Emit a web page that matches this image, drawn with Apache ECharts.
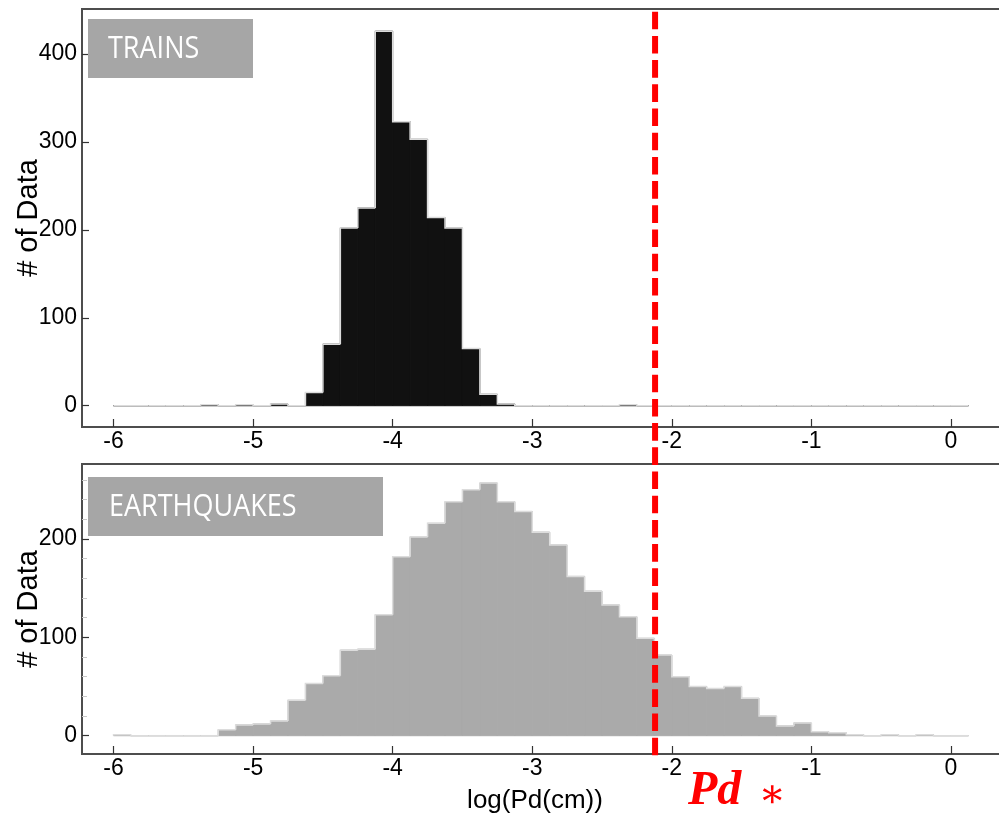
<!DOCTYPE html>
<html>
<head>
<meta charset="utf-8">
<script src="https://cdn.jsdelivr.net/npm/echarts@6/dist/echarts.min.js"></script>
<style>
  html, body { margin: 0; padding: 0; background: #ffffff; }
  #chart { width: 999px; height: 821px; }
</style>
</head>
<body>
<div id="chart"></div>
<script>
// Histogram bins: log10 of peak displacement Pd (cm), fixed-width bins
const binStart = -6.0;
const binWidth = 0.125;

// Counts per bin for train-induced signals
const trainCounts = [
  0, 0, 0, 0, 0, 1, 0, 1, 0, 2,
  0, 15, 70, 202, 225, 426, 323, 303, 214, 202,
  65, 13, 2, 0, 0, 0, 0, 0, 0, 1,
  0, 0, 0, 0, 0, 0, 0, 0, 0, 0,
  0, 0, 0, 0, 0, 0, 0, 0, 0
];

// Counts per bin for earthquake signals
const quakeCounts = [
  1, 0, 0, 0, 0, 0, 6, 11, 12, 15,
  36, 53, 61, 87, 88, 123, 182, 202, 216, 238,
  250, 257, 238, 228, 207, 194, 162, 147, 133, 121,
  99, 82, 60, 50, 48, 50, 38, 20, 10, 13,
  4, 3, 1, 0, 1, 0, 1, 0, 0
];

// Tick labels
const xTicks = [-6, -5, -4, -3, -2, -1, 0];
const trainYTicks = [0, 100, 200, 300, 400];
const quakeYTicks = [0, 100, 200];

// Threshold Pd* (log scale)
const pdStar = -2.12;

const panelNames = ['TRAINS', 'EARTHQUAKES'];
const xTitle = 'log(Pd(cm))';
const yTitle = '# of Data';

// [left edge, right edge, count, previous count, is last bin]
function toBins(counts) {
  return counts.map((c, i) => [
    binStart + i * binWidth,
    binStart + (i + 1) * binWidth,
    c,
    i > 0 ? counts[i - 1] : 0,
    i === counts.length - 1 ? 1 : 0
  ]);
}

// Filled bin plus the stepped outline of the histogram envelope
function renderBin(params, api) {
  const x0 = api.value(0), x1 = api.value(1), c = api.value(2), prev = api.value(3);
  const base = api.coord([x0, 0]);
  const top = api.coord([x1, c]);
  const prevTop = api.coord([x0, prev]);
  const pts = [[base[0], prevTop[1]], [base[0], top[1]], [top[0], top[1]]];
  if (api.value(4)) pts.push([top[0], base[1]]);
  const color = api.visual('color');
  return {
    type: 'group',
    children: [
      {
        type: 'rect',
        z2: 1,
        shape: { x: base[0], y: top[1], width: top[0] - base[0], height: base[1] - top[1] },
        style: { fill: color, stroke: color, lineWidth: 1 }
      },
      {
        type: 'polyline',
        z2: 10,
        shape: { points: pts },
        style: { fill: null, stroke: '#dcdcdc', lineWidth: 1.5 }
      }
    ]
  };
}

const AXIS_FONT = 'Liberation Sans, Arial, sans-serif';
const frameColor = '#4d4d4d';

function xAxisFor(gridIndex, withName) {
  const ax = {
    gridIndex: gridIndex,
    type: 'value',
    min: -6.226,
    max: 0.509,
    axisLine: { show: false, onZero: false },
    splitLine: { show: false },
    axisTick: { inside: true, length: 8, lineStyle: { color: '#333', width: 1.2 }, customValues: xTicks },
    axisLabel: { customValues: xTicks, fontSize: 23, fontFamily: AXIS_FONT, color: '#000', margin: 3 }
  };
  if (withName) {
    ax.name = xTitle;
    ax.nameLocation = 'middle';
    ax.nameGap = 34;
    ax.nameMoveOverlap = false;
    ax.nameTextStyle = { fontSize: 26, fontFamily: AXIS_FONT, color: '#000', padding: [0, 34, 0, 0] };
  }
  return ax;
}

function yAxisFor(gridIndex, min, max, ticks, minor) {
  return {
    gridIndex: gridIndex,
    type: 'value',
    min: min,
    max: max,
    splitNumber: 3,
    axisLine: { show: false, onZero: false },
    splitLine: { show: false },
    axisTick: { inside: true, length: 7, lineStyle: { color: '#333', width: 1.2 }, customValues: ticks },
    minorTick: { show: minor, splitNumber: 5, length: 5, lineStyle: { color: '#c8c8c8', width: 1 } },
    axisLabel: { customValues: ticks, fontSize: 23, fontFamily: AXIS_FONT, color: '#000', margin: 5 },
    name: yTitle,
    nameLocation: 'middle',
    nameGap: 39,
    nameMoveOverlap: false,
    nameTextStyle: { fontSize: 29, fontFamily: AXIS_FONT, color: '#000' }
  };
}

const chart = echarts.init(document.getElementById('chart'), null, { renderer: 'canvas' });

const gridBase = { left: 82, width: 940, show: true, borderColor: frameColor, borderWidth: 2,
                   backgroundColor: 'transparent', outerBoundsMode: 'none', containLabel: false };

chart.setOption({
  animation: false,
  backgroundColor: '#ffffff',
  grid: [
    Object.assign({}, gridBase, { top: 9, height: 418 }),
    Object.assign({}, gridBase, { top: 464, height: 290 })
  ],
  xAxis: [xAxisFor(0, false), xAxisFor(1, true)],
  yAxis: [
    yAxisFor(0, -24.2, 451.2, trainYTicks, false),
    yAxisFor(1, -18.6, 276.3, quakeYTicks, true)
  ],
  series: [
    {
      name: panelNames[0],
      type: 'custom',
      xAxisIndex: 0,
      yAxisIndex: 0,
      renderItem: renderBin,
      itemStyle: { color: '#111111' },
      encode: { x: [0, 1], y: 2 },
      data: toBins(trainCounts)
    },
    {
      name: panelNames[1],
      type: 'custom',
      xAxisIndex: 1,
      yAxisIndex: 1,
      renderItem: renderBin,
      itemStyle: { color: '#aaaaaa' },
      encode: { x: [0, 1], y: 2 },
      data: toBins(quakeCounts)
    }
  ]
});

// Panel captions and the Pd* threshold line, placed from the axis scale
const xPd = chart.convertToPixel({ xAxisIndex: 0 }, pdStar);

chart.setOption({
  graphic: [
    { type: 'rect', z: 50, shape: { x: 88, y: 19, width: 165, height: 59 }, style: { fill: '#a6a6a6' } },
    { type: 'text', z: 51, x: 108, y: 49, scaleY: 1.12,
      style: { text: panelNames[0], fill: '#ffffff', font: '27px "Open Sans", sans-serif', textVerticalAlign: 'middle' } },
    { type: 'rect', z: 50, shape: { x: 88, y: 477, width: 295, height: 59 }, style: { fill: '#a6a6a6' } },
    { type: 'text', z: 51, x: 109, y: 507, scaleY: 1.12,
      style: { text: panelNames[1], fill: '#ffffff', font: '27px "Open Sans", sans-serif', textVerticalAlign: 'middle' } },
    { type: 'line', z: 60, shape: { x1: xPd, y1: 11.7, x2: xPd, y2: 757 },
      style: { stroke: '#ff0000', lineWidth: 6, lineDash: [17.6, 6.6] } },
    { type: 'text', z: 60, x: 688, y: 792,
      style: { text: 'Pd', fill: '#ff0000', font: 'italic bold 48px "Liberation Serif", "DejaVu Serif", serif', textVerticalAlign: 'middle' } },
    { type: 'text', z: 60, x: 772, y: 797,
      style: { text: '\u2217', fill: '#ff0000', font: '40px "DejaVu Serif", serif', textAlign: 'center', textVerticalAlign: 'middle' } }
  ]
});
</script>
</body>
</html>
